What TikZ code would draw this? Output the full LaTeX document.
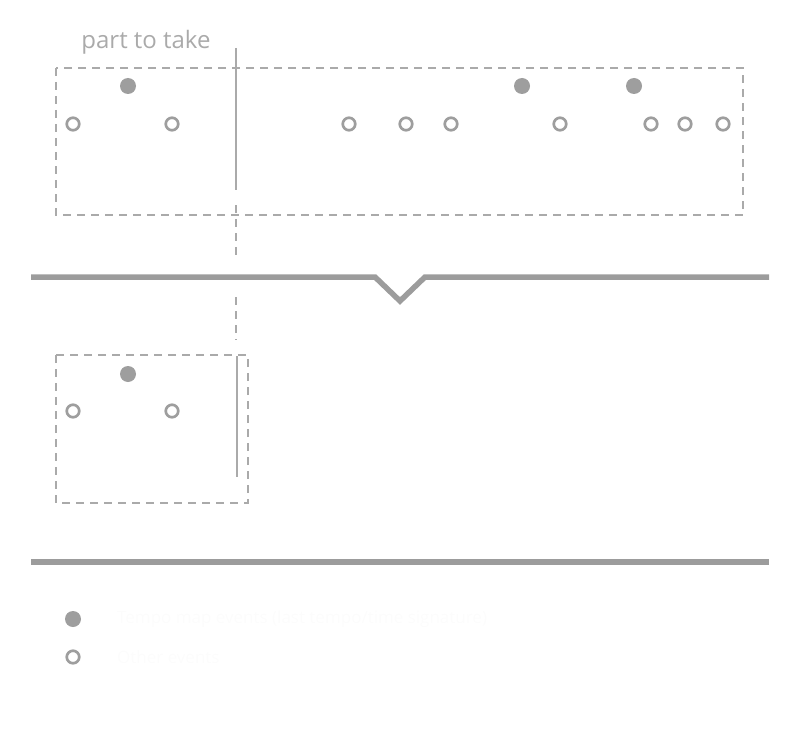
\documentclass[tikz,border=0pt]{standalone}
\usepackage{fontspec}
\setmainfont{Open Sans}
\definecolor{dotgray}{HTML}{9E9E9E}
\definecolor{dashgray}{HTML}{AAAAAA}
\definecolor{linegray}{HTML}{9C9C9C}
\definecolor{ghost}{HTML}{FCFCFC}
\begin{document}
\begin{tikzpicture}[x=1pt,y=-1pt,
  fdot/.style={circle,fill=dotgray,inner sep=0pt,minimum size=16pt},
  odot/.style={circle,draw=dotgray,line width=2.7pt,inner sep=0pt,minimum size=12.5pt},
  dbox/.style={draw=dashgray,line width=1.4pt,dash pattern=on 8pt off 6pt},
  cutline/.style={draw=dashgray,line width=1.6pt},
  cutdash/.style={draw=dashgray,line width=1.6pt,dash pattern=on 8pt off 6pt},
  bar/.style={draw=linegray,line width=5.5pt},
  lbl/.style={text=dashgray,font=\fontsize{24}{28}\selectfont,inner sep=0pt},
  ghosttext/.style={text=ghost,font=\fontsize{17}{20}\selectfont,inner sep=0pt,anchor=west}]
\useasboundingbox (0,0) rectangle (800,733);
% label
\node[lbl] (lab) at (146,42) {part to take};
% top box
\draw[dbox] (56,68) rectangle (743,215);
\coordinate (c1) at (236,48);
\coordinate (c2) at (236,190);
\coordinate (c3) at (236,205);
\coordinate (c4) at (236,258);
\coordinate (c5) at (236,297);
\coordinate (c6) at (236,340);
\draw[cutline] (c1) -- (c2);
\draw[cutdash] (c3) -- (c4);
\draw[cutdash] (c5) -- (c6);
% dots top
\node[fdot] (f1) at (128,86) {};
\node[fdot] (f2) at (522,86) {};
\node[fdot] (f3) at (634,86) {};
\foreach \x [count=\i] in {73,172,349,406,451,560,651,685,723}
  \node[odot] (o\i) at (\x,124) {};
% bar with notch
\coordinate (b1) at (31,277);
\coordinate (b2) at (375,277);
\coordinate (b3) at (400,301);
\coordinate (b4) at (425,277);
\coordinate (b5) at (769,277);
\draw[bar,line join=miter] (b1) -- (b2) -- (b3) -- (b4) -- (b5);
% middle box
\draw[dbox] (56,355) rectangle (248,503);
\coordinate (m1) at (237,356);
\coordinate (m2) at (237,477);
\draw[cutline] (m1) -- (m2);
\node[fdot] (mf) at (128,374) {};
\node[odot] (mo1) at (73,411) {};
\node[odot] (mo2) at (172,411) {};
% second bar
\coordinate (d1) at (31,562);
\coordinate (d2) at (769,562);
\draw[bar] (d1) -- (d2);
% legend
\node[fdot] (lf) at (73,619) {};
\node[odot] (lo) at (73,657) {};
\node[ghosttext] (lt1) at (117,619) {Tempo map events (last tempo/time signature)};
\node[ghosttext] (lt2) at (117,657) {Other events};
\end{tikzpicture}
\end{document}
